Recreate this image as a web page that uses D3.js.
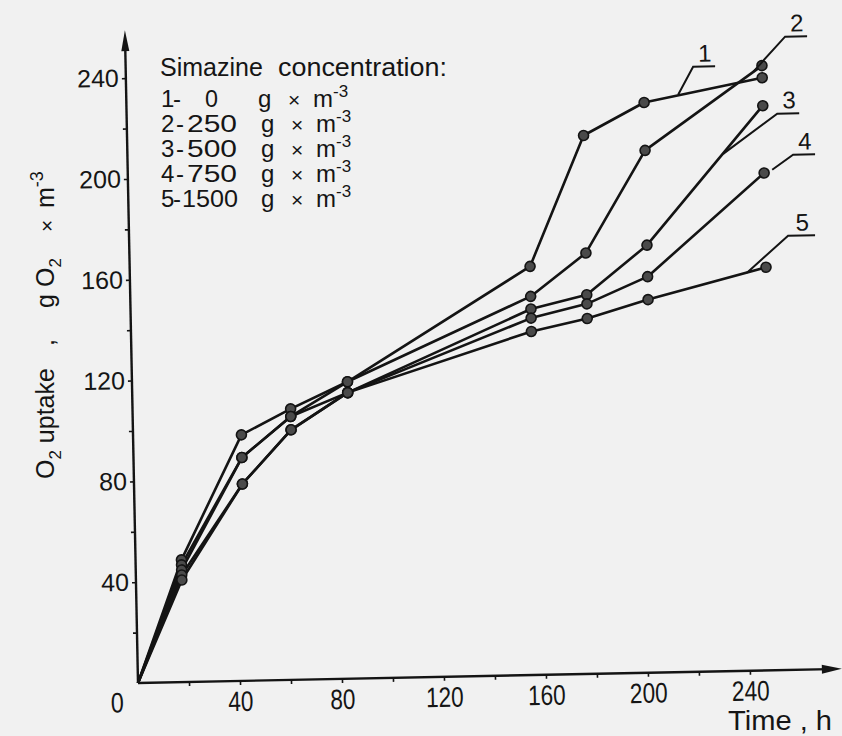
<!DOCTYPE html>
<html>
<head>
<meta charset="utf-8">
<script src="https://cdn.jsdelivr.net/npm/d3@7"></script>
<style>
html,body{margin:0;padding:0;background:#f1f1f1;}
svg{display:block;}
text{fill:#151515;font-family:"Liberation Sans",Arial,sans-serif;}
</style>
</head>
<body>
<script>
// ---- data ----
const times = [0, 18, 42.5, 62, 84.5, 157, 179, 203, 249.5];      // h
const seriesNames = ["1", "2", "3", "4", "5"];
const concentrations = ["0", "250", "500", "750", "1500"];        // g x m-3 simazine
const uptake1 = [0, 48.5, 97.6, 107.5, 117.8, 162.1, 213.6, 226.2, 235.1];
const uptake2 = [0, 46.5, 88.6, 104.5, 117.8, 150.2, 167.0, 207.2, 239.9];
const uptake3 = [0, 44.5, 88.6, 104.5, 113.5, 145.2, 150.4, 169.6, 224.0];
const uptake4 = [0, 42.5, 78.1, 99.2, 113.5, 141.6, 146.8, 157.1, 197.3];
const uptake5 = [0, 40.5, 78.1, 99.2, 113.5, 136.3, 141.0, 148.0, 159.9];
const xTickValues = [20, 40, 60, 80, 100, 120, 140, 160, 180, 200, 220, 240];
const xLabelValues = [40, 80, 120, 160, 200, 240];
const yTickValues = [20, 40, 60, 80, 100, 120, 140, 160, 180, 200, 220, 240];
const yLabelValues = [40, 80, 120, 160, 200, 240];
// label leaders: point on the curve and start of the underline, in (h, g O2 m-3)
const leaderAnchor = [[216.4, 229.0], [246.0, 237.5], [233.6, 205.2], [252.7, 198.5], [242.0, 157.9]];
const leaderTag = [[222.5, 240.0], [258.8, 251.2], [255.1, 220.7], [261.0, 204.3], [258.4, 172.2]];

const series = [uptake1, uptake2, uptake3, uptake4, uptake5];

// ---- drawing ----
const W = 842, H = 736;
const svg = d3.select("body").append("svg").attr("width", W).attr("height", H);
svg.append("rect").attr("width", W).attr("height", H).attr("fill", "#f1f1f1");

const ink = "#141414";
const x = d3.scaleLinear().domain([0, 240]).range([0, 612]);
const y = d3.scaleLinear().domain([0, 240]).range([0, -605]);

const g = svg.append("g").attr("transform", "translate(138,683) rotate(-1.15)");

// x axis
const xa = g.append("g").call(
  d3.axisBottom(x).tickValues(xTickValues).tickSize(4)
    .tickFormat(d => xLabelValues.includes(d) ? d : "")
);
xa.select(".domain").remove();
xa.selectAll("line").attr("stroke", ink).attr("stroke-width", 1.6);
xa.selectAll("text")
  .attr("y", 30).attr("dy", 0)
  .attr("font-size", 28)
  .attr("font-family", "Liberation Sans, Arial, sans-serif")
  .attr("fill", ink)
  .each(function(d) {
    const s = String(d);
    if (s.length) d3.select(this).attr("textLength", 12.6 * s.length).attr("lengthAdjust", "spacingAndGlyphs");
  });
g.append("line").attr("x1", 0).attr("y1", 0).attr("x2", 692).attr("y2", 0)
  .attr("stroke", ink).attr("stroke-width", 2.4);
g.append("path").attr("d", "M704,0 L684,-4.5 L684,4.5 Z").attr("fill", ink);

// y axis
const ya = g.append("g").call(
  d3.axisLeft(y).tickValues(yTickValues).tickSize(4).tickPadding(3)
    .tickFormat(d => yLabelValues.includes(d) ? d : "")
);
ya.select(".domain").remove();
ya.selectAll("line").attr("stroke", ink).attr("stroke-width", 1.6);
ya.selectAll("text")
  .attr("font-size", 25)
  .attr("font-family", "Liberation Sans, Arial, sans-serif")
  .attr("fill", ink);
g.append("line").attr("x1", 0).attr("y1", 0).attr("x2", 0).attr("y2", -640)
  .attr("stroke", ink).attr("stroke-width", 2.4);
g.append("path").attr("d", "M0,-653 L-4,-632 L4,-632 Z").attr("fill", ink);

// origin label
g.append("text").attr("x", -21).attr("y", 29).attr("text-anchor", "middle")
  .attr("font-size", 28).attr("textLength", 13).attr("lengthAdjust", "spacingAndGlyphs")
  .text("0");

// curves
const line = d3.line().x((d, i) => x(times[i])).y(d => y(d));
series.forEach(vals => {
  g.append("path").attr("d", line(vals))
    .attr("fill", "none").attr("stroke", ink).attr("stroke-width", 2.6)
    .attr("stroke-linejoin", "round");
});
series.forEach(vals => {
  g.selectAll(null).data(vals.slice(1)).enter().append("circle")
    .attr("cx", (d, i) => x(times[i + 1]))
    .attr("cy", d => y(d))
    .attr("r", 5)
    .attr("fill", "#4a4a4a").attr("stroke", ink).attr("stroke-width", 1.6);
});

// curve labels with leaders
seriesNames.forEach((name, i) => {
  const ax = x(leaderAnchor[i][0]), ay = y(leaderAnchor[i][1]);
  const tx = x(leaderTag[i][0]), ty = y(leaderTag[i][1]);
  const len = i === 4 ? 27 : 22;
  g.append("path")
    .attr("d", `M${ax},${ay} L${tx},${ty} L${tx + len},${ty}`)
    .attr("fill", "none").attr("stroke", ink).attr("stroke-width", 2);
  g.append("text").attr("x", tx + len / 2 + 1).attr("y", ty - 5)
    .attr("text-anchor", "middle").attr("font-size", 24).text(name);
});

// legend
const leg = svg.append("g");
const title = leg.append("text").attr("x", 160).attr("y", 76).attr("font-size", 25);
title.append("tspan").attr("x", 160).text("Simazine");
title.append("tspan").attr("x", 278).attr("textLength", 169).attr("lengthAdjust", "spacingAndGlyphs")
  .text("concentration:");
const rowY = [107, 132, 157, 182, 207];
seriesNames.forEach((name, i) => {
  const t = leg.append("text").attr("y", rowY[i]).attr("font-size", 24);
  t.append("tspan").attr("x", 161).text(name);
  t.append("tspan").attr("x", i === 0 || i === 4 ? 173 : 176).text("-");
  const c = concentrations[i];
  const cx = i === 0 ? 205 : (c.length === 4 ? 182 : 187);
  const cw = i === 0 ? 13 : (c.length === 4 ? 56 : 50);
  t.append("tspan").attr("x", cx).attr("textLength", cw).attr("lengthAdjust", "spacingAndGlyphs").text(c);
  t.append("tspan").attr("x", i === 0 ? 258 : 261).text("g");
  t.append("tspan").attr("x", i === 0 ? 288 : 291).attr("font-size", 21).text("×");
  t.append("tspan").attr("x", i === 0 ? 313 : 316).text("m");
  t.append("tspan").attr("dy", -10).attr("font-size", 17).text("-3");
});

// y axis title
const yt = svg.append("text").attr("transform", "translate(54,0) rotate(-90)").attr("font-size", 25);
yt.append("tspan").attr("x", -479).attr("y", 0).text("O");
yt.append("tspan").attr("dy", 7).attr("font-size", 17).text("2");
yt.append("tspan").attr("dy", -7).text(" uptake");
yt.append("tspan").attr("x", -346).text(",");
yt.append("tspan").attr("x", -308).text("g");
yt.append("tspan").attr("x", -287).text("O");
yt.append("tspan").attr("dy", 7).attr("font-size", 17).text("2");
yt.append("tspan").attr("dy", -7).attr("x", -232).attr("font-size", 21).text("×");
yt.append("tspan").attr("x", -208).text("m");
yt.append("tspan").attr("dy", -11).attr("font-size", 18).text("-3");

// x axis title
svg.append("text").attr("x", 728).attr("y", 730).attr("font-size", 28)
  .attr("textLength", 104).attr("lengthAdjust", "spacingAndGlyphs")
  .text("Time , h");
</script>
</body>
</html>
